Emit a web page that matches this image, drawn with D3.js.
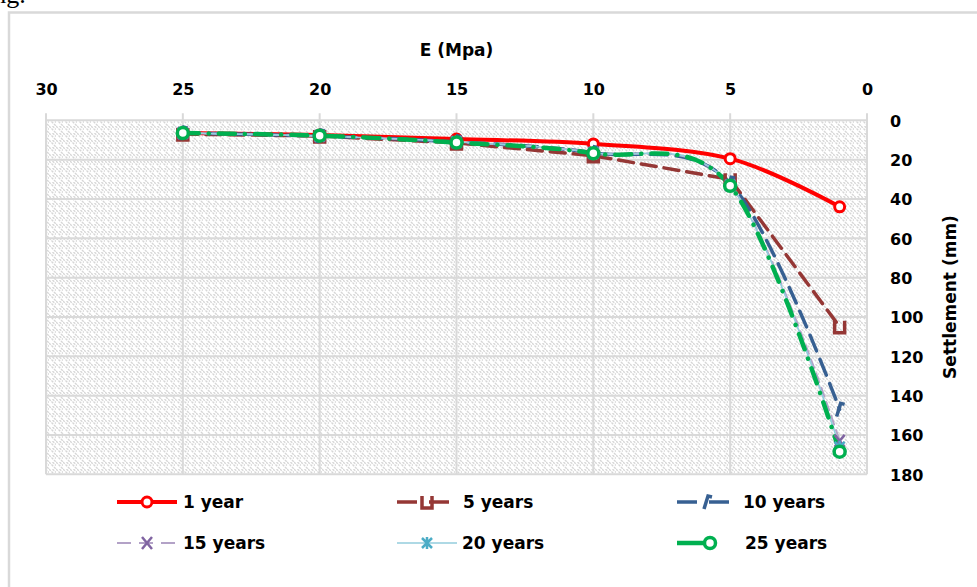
<!DOCTYPE html>
<html>
<head>
<meta charset="utf-8">
<script src="https://cdn.jsdelivr.net/npm/d3@7"></script>
<style>
    html, body { margin: 0; padding: 0; background: #fff; overflow: hidden; }
    text { font-family: "DejaVu Sans", sans-serif; font-weight: bold; fill: #000; }
</style>
</head>
<body>
<div id="chart-area"></div>
<script>
// E modulus (MPa) at which settlement was computed
const eValues = [25, 20, 15, 10, 5, 1];

// settlement (mm) per period
const year1  = [6.5, 7.5, 9.5, 12, 19.5, 44];
const year5  = [7, 8, 11.5, 18, 30, 105];
const year10 = [6.5, 8, 11, 16.5, 32, 147];
const year15 = [6.5, 8, 11, 16.5, 33, 163];
const year20 = [6.5, 8, 11, 16.5, 33, 166];
const year25 = [6.5, 7.8, 11.3, 16.8, 33.3, 168.5];

const seriesNames = ['1 year', '5 years', '10 years', '15 years', '20 years', '25 years'];
const xTicks = [30, 25, 20, 15, 10, 5, 0];
const yTicks = [0, 20, 40, 60, 80, 100, 120, 140, 160, 180];

(function () {
    'use strict';

    const W = 977, H = 587;
    const PLOT = {LEFT: 46, RIGHT: 867, TOP: 120.3, BOTTOM: 474.3};

    const svg = d3.select('#chart-area').append('svg')
        .attr('width', W)
        .attr('height', H);

    // hatch fill used by the plot area
    const defs = svg.append('defs');
    const pat = defs.append('pattern')
        .attr('id', 'hatch')
        .attr('patternUnits', 'userSpaceOnUse')
        .attr('width', 7)
        .attr('height', 7);
    pat.append('rect').attr('width', 7).attr('height', 7).attr('fill', '#fff');
    pat.append('path')
        .attr('d', 'M0,0 L7,7 M-3.5,3.5 L0,7 M3.5,0 L7,3.5')
        .attr('stroke', '#d6d6d6')
        .attr('stroke-width', 1.3)
        .attr('stroke-dasharray', '2.5,1');

    // leftover of the page text above the figure
    svg.append('text')
        .attr('x', -14)
        .attr('y', 3)
        .style('font-family', '"Liberation Serif", serif')
        .style('font-weight', 'normal')
        .style('font-size', '26px')
        .text('ing.');

    // chart frame
    svg.append('rect')
        .attr('x', 9).attr('y', 12.5)
        .attr('width', 1100).attr('height', 1100)
        .attr('fill', 'none')
        .attr('stroke', '#d9d9d9')
        .attr('stroke-width', 2.5);

    const x = d3.scaleLinear().domain([30, 0]).range([PLOT.LEFT, PLOT.RIGHT]);
    const y = d3.scaleLinear().domain([0, 180]).range([PLOT.TOP, PLOT.BOTTOM]);

    svg.append('rect')
        .attr('x', PLOT.LEFT).attr('y', PLOT.TOP)
        .attr('width', PLOT.RIGHT - PLOT.LEFT)
        .attr('height', PLOT.BOTTOM - PLOT.TOP)
        .attr('fill', 'url(#hatch)');

    // grid
    const grid = svg.append('g').attr('stroke', '#d9d9d9').attr('stroke-width', 2);
    grid.selectAll('.gx').data(xTicks).enter().append('line')
        .attr('x1', d => x(d)).attr('x2', d => x(d))
        .attr('y1', PLOT.TOP - 7).attr('y2', PLOT.BOTTOM);
    grid.selectAll('.gy').data(yTicks).enter().append('line')
        .attr('x1', PLOT.LEFT).attr('x2', PLOT.RIGHT)
        .attr('y1', d => y(d)).attr('y2', d => y(d));

    // axes (top and right), labels only
    const xAxis = svg.append('g')
        .attr('transform', `translate(0, ${PLOT.TOP - 25})`)
        .call(d3.axisTop(x).tickValues(xTicks).tickSize(0).tickPadding(0));
    xAxis.select('.domain').remove();
    xAxis.selectAll('text').style('font-size', '16px').attr('dy', 0);

    const yAxis = svg.append('g')
        .attr('transform', `translate(${PLOT.RIGHT + 23}, 0)`)
        .call(d3.axisRight(y).tickValues(yTicks).tickSize(0).tickPadding(0));
    yAxis.select('.domain').remove();
    yAxis.selectAll('text').style('font-size', '16px').attr('dy', '0.36em');
    xAxis.attr('font-family', null); yAxis.attr('font-family', null);

    svg.append('text')
        .attr('x', (PLOT.LEFT + PLOT.RIGHT) / 2)
        .attr('y', 56)
        .attr('text-anchor', 'middle')
        .style('font-size', '17px')
        .text('E (Mpa)');

    svg.append('text')
        .attr('transform', 'translate(950, 297) rotate(-90)')
        .attr('text-anchor', 'middle')
        .attr('dy', '0.36em')
        .style('font-size', '17px')
        .text('Settlement (mm)');

    // marker shapes
    const markers = {
        circle5: g => g.append('circle').attr('r', 5),
        circle6: g => g.append('circle').attr('r', 5.5),
        u: g => g.append('path').attr('d', 'M-5,-6 V6 H5 V-6'),
        tri: g => g.append('path').attr('d', 'M-3,7 L1,-6 L5,-5'),
        cross: g => g.append('path').attr('d', 'M-5,-6 L5,6 M5,-6 L-5,6'),
        star: g => g.append('path').attr('d', 'M0,-6 V6 M-5,-5 L5,5 M5,-5 L-5,5')
    };

    const smooth = d3.curveCardinal.tension(0);
    const styles = [
        {values: year1,  color: '#ff0000', mcolor: '#ff0000', width: 4,   dash: null,          curve: smooth,          marker: 'circle5', mw: 3,   fill: '#fff'},
        {values: year5,  color: '#953735', mcolor: '#953735', width: 3.5, dash: '15,8',        curve: d3.curveLinear,  marker: 'u',       mw: 3.5, fill: 'none'},
        {values: year10, color: '#376092', mcolor: '#376092', width: 3.5, dash: '17,9',        curve: smooth,          marker: 'tri',     mw: 3.5, fill: 'none'},
        {values: year15, color: '#b3a2c7', mcolor: '#8064a2', width: 2,   dash: '9,6',         curve: smooth,          marker: 'cross',   mw: 2.5, fill: 'none'},
        {values: year20, color: '#93cddd', mcolor: '#4bacc6', width: 1.6, dash: null,          curve: smooth,          marker: 'star',    mw: 2.5, fill: 'none'},
        {values: year25, color: '#00b050', mcolor: '#00b050', width: 4.5, dash: '16,10,0.1,10', curve: smooth,         marker: 'circle6', mw: 3.5, fill: '#fff'}
    ];

    const plot = svg.append('g');
    styles.forEach(st => {
        const pts = eValues.map((e, i) => ({e: e, s: st.values[i]}));
        const line = d3.line()
            .x(d => x(d.e))
            .y(d => y(d.s))
            .curve(st.curve);
        plot.append('path')
            .attr('d', line(pts))
            .attr('fill', 'none')
            .attr('stroke', st.color)
            .attr('stroke-width', st.width)
            .attr('stroke-linecap', 'round')
            .attr('stroke-dasharray', st.dash);
    });
    styles.forEach(st => {
        eValues.forEach((e, i) => {
            const g = plot.append('g')
                .attr('transform', `translate(${x(e)}, ${y(st.values[i])})`)
                .attr('fill', st.fill)
                .attr('stroke', st.mcolor)
                .attr('stroke-width', st.mw);
            markers[st.marker](g);
        });
    });

    // legend: 3 columns x 2 rows
    const legCols = [117, 397, 677];
    const legRows = [502, 543];
    styles.forEach((st, i) => {
        const lx = legCols[i % 3], ly = legRows[Math.floor(i / 3)];
        const g = svg.append('g').attr('transform', `translate(${lx}, ${ly})`);
        g.append('line')
            .attr('x1', 0).attr('x2', i === 5 ? 34 : 60)
            .attr('stroke', st.color)
            .attr('stroke-width', st.width)
            .attr('stroke-dasharray', st.dash ? (i === 5 ? null : (i === 3 ? '14,8' : '20,12')) : null);
        const mg = g.append('g')
            .attr('transform', `translate(${i === 5 ? 33 : 30}, 0)`)
            .attr('fill', st.fill)
            .attr('stroke', st.mcolor)
            .attr('stroke-width', st.mw);
        markers[st.marker](mg);
        g.append('text')
            .attr('x', i === 5 ? 68 : (i === 4 ? 65 : 66))
            .attr('dy', '0.36em')
            .style('font-size', '17px')
            .text(seriesNames[i]);
    });
})();
</script>
</body>
</html>
